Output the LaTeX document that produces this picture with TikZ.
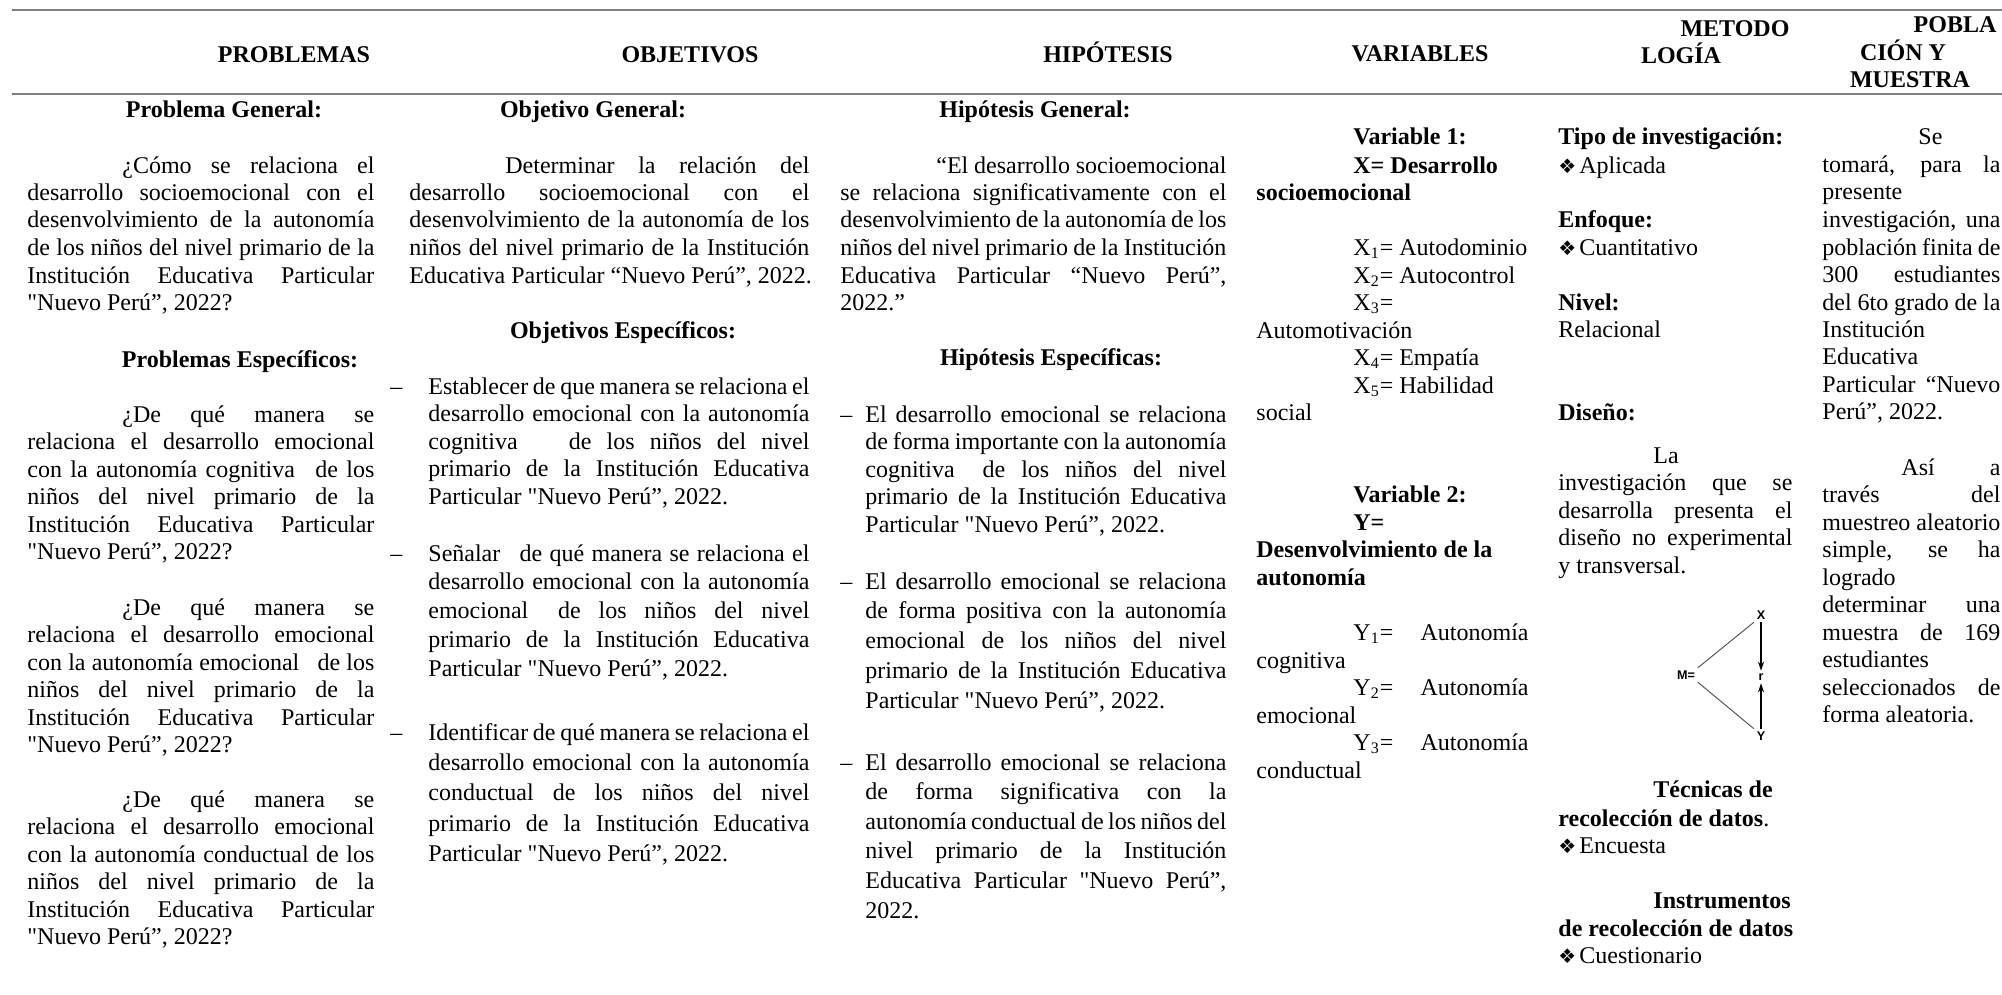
\documentclass[tikz,border=0pt]{standalone}
\usepackage{fontspec}
\setmainfont{Liberation Serif}
\newfontfamily\sansfam{Liberation Sans}
\newfontfamily\dejavu{DejaVu Sans}
\usetikzlibrary{arrows.meta}

\newcommand{\J}[1]{\makebox[\linewidth][s]{#1}\par}
\newcommand{\N}[1]{\mbox{#1}\par}
\newcommand{\ind}{\hspace*{47.5pt}}
\newcommand{\sbs}[1]{\textsubscript{#1}}
\newcommand{\sq}{\XeTeXglyph\XeTeXcharglyph"22\relax}
\newcommand{\bul}{{\dejavu\fontsize{10pt}{10pt}\selectfont ❖}\hspace{1.5pt}}
\newcommand{\para}[3][13.75pt]{\parbox[t]{#2}{\fontsize{12pt}{#1}\selectfont\setlength{\parindent}{0pt}\setlength{\parskip}{0pt}\lineskiplimit=-20pt\lineskip=0pt #3}}

\definecolor{rulegray}{RGB}{128,128,128}
\definecolor{diagray}{RGB}{90,90,90}

\tikzset{
  txt/.style={inner sep=0pt, anchor=base west, font=\fontsize{12pt}{13.75pt}\selectfont},
  txtb/.style={txt, font=\fontsize{12pt}{13.75pt}\selectfont\bfseries},
  ctr/.style={inner sep=0pt, anchor=base, font=\fontsize{12pt}{13.75pt}\selectfont\bfseries},
  rgt/.style={inner sep=0pt, anchor=base east, font=\fontsize{12pt}{13.75pt}\selectfont},
  rulesty/.style={draw=rulegray, line width=1pt},
  dg/.style={inner sep=1.25pt, font=\sansfam\bfseries\fontsize{6.3pt}{7pt}\selectfont},
  dline/.style={draw=diagray, line width=0.5pt},
  darrow/.style={draw=black, line width=0.6pt, -{Stealth[length=4.5pt,width=3pt]}}
}

\begin{document}
\begin{tikzpicture}[x=0.5pt,y=-0.5pt]
\fill[white] (0,0) rectangle (2002,995);
\useasboundingbox (0,0) rectangle (2002,995);

% rules
\draw[rulesty] (12,10) -- (2002,10);
\draw[rulesty] (12,94) -- (2002,94);

% headers
\node[ctr] (hprob) at (294,63) {PROBLEMAS};
\node[ctr] (hobj) at (690,63) {OBJETIVOS};
\node[ctr] (hhip) at (1108,63) {HIPÓTESIS};
\node[ctr] (hvar) at (1420,62) {VARIABLES};
\node[ctr] (hmet1) at (1735,37) {METODO};
\node[ctr] (hmet2) at (1681,64) {LOGÍA};
\node[ctr] (hpob1) at (1955,33) {POBLA};
\node[ctr] (hpob2) at (1903,61) {CIÓN Y};
\node[ctr] (hpob3) at (1910,88) {MUESTRA};

% ---------- column 1 ----------
\node[ctr] (pgen) at (224,118) {Problema General:};
\node[txt] (p1) at (27,173) {\para{173.5pt}{%
\J{\ind ¿Cómo se relaciona el}
\J{desarrollo socioemocional con el}
\J{desenvolvimiento de la autonomía}
\J{de los niños del nivel primario de la}
\J{Institución Educativa Particular}
\N{\sq Nuevo Perú”, 2022?}}};
\node[ctr] (pesp) at (240,367) {Problemas Específicos:};
\node[txt] (p2) at (27,422) {\para{173.5pt}{%
\J{\ind ¿De qué manera se}
\J{relaciona el desarrollo emocional}
\J{con la autonomía cognitiva\hspace{6pt} de los}
\J{niños del nivel primario de la}
\J{Institución Educativa Particular}
\N{\sq Nuevo Perú”, 2022?}}};
\node[txt] (p3) at (27,615) {\para{173.5pt}{%
\J{\ind ¿De qué manera se}
\J{relaciona el desarrollo emocional}
\J{con la autonomía emocional\hspace{6pt} de los}
\J{niños del nivel primario de la}
\J{Institución Educativa Particular}
\N{\sq Nuevo Perú”, 2022?}}};
\node[txt] (p4) at (27,807) {\para{173.5pt}{%
\J{\ind ¿De qué manera se}
\J{relaciona el desarrollo emocional}
\J{con la autonomía conductual de los}
\J{niños del nivel primario de la}
\J{Institución Educativa Particular}
\N{\sq Nuevo Perú”, 2022?}}};

% ---------- column 2 ----------
\node[ctr] (ogen) at (593,118) {Objetivo General:};
\node[txt] (o1) at (409,173) {\para{200pt}{%
\J{\hspace*{48pt}Determinar la relación del}
\J{desarrollo socioemocional con el}
\J{desenvolvimiento de la autonomía de los}
\J{niños del nivel primario de la Institución}
\N{Educativa Particular “Nuevo Perú”, 2022.}}};
\node[ctr] (oesp) at (623,338) {Objetivos Específicos:};
\node[txt] (od1) at (390,394) {–};
\node[txt] (o2) at (428,394) {\para{190.5pt}{%
\J{Establecer de que manera se relaciona el}
\J{desarrollo emocional con la autonomía}
\J{cognitiva\hspace{18pt} de los niños del nivel}
\J{primario de la Institución Educativa}
\N{Particular \sq Nuevo Perú”, 2022.}}};
\node[txt] (od2) at (390,561) {–};
\node[txt] (o3) at (428,561) {\para[14.45pt]{190.5pt}{%
\J{Señalar\hspace{6pt} de qué manera se relaciona el}
\J{desarrollo emocional con la autonomía}
\J{emocional\hspace{6pt} de los niños del nivel}
\J{primario de la Institución Educativa}
\N{Particular \sq Nuevo Perú”, 2022.}}};
\node[txt] (od3) at (390,740) {–};
\node[txt] (o4) at (428,740) {\para[15.2pt]{190.5pt}{%
\J{Identificar de qué manera se relaciona el}
\J{desarrollo emocional con la autonomía}
\J{conductual de los niños del nivel}
\J{primario de la Institución Educativa}
\N{Particular \sq Nuevo Perú”, 2022.}}};

% ---------- column 3 ----------
\node[ctr] (hgen) at (1035,118) {Hipótesis General:};
\node[txt] (h1) at (840,173) {\para{193pt}{%
\J{\hspace*{48pt}“El desarrollo socioemocional}
\J{se relaciona significativamente con el}
\J{desenvolvimiento de la autonomía de los}
\J{niños del nivel primario de la Institución}
\J{Educativa Particular “Nuevo Perú”,}
\N{2022.”}}};
\node[ctr] (hesp) at (1051,365) {Hipótesis Específicas:};
\node[txt] (hd1) at (840,422) {–};
\node[txt] (h2) at (865,422) {\para{180.5pt}{%
\J{El desarrollo emocional se relaciona}
\J{de forma importante con la autonomía}
\J{cognitiva\hspace{6pt} de los niños del nivel}
\J{primario de la Institución Educativa}
\N{Particular \sq Nuevo Perú”, 2022.}}};
\node[txt] (hd2) at (840,589) {–};
\node[txt] (h3) at (865,589) {\para[14.9pt]{180.5pt}{%
\J{El desarrollo emocional se relaciona}
\J{de forma positiva con la autonomía}
\J{emocional de los niños del nivel}
\J{primario de la Institución Educativa}
\N{Particular \sq Nuevo Perú”, 2022.}}};
\node[txt] (hd3) at (840,770) {–};
\node[txt] (h4) at (865,770) {\para[14.8pt]{180.5pt}{%
\J{El desarrollo emocional se relaciona}
\J{de forma significativa con la}
\J{autonomía conductual de los niños del}
\J{nivel primario de la Institución}
\J{Educativa Particular \sq Nuevo Perú”,}
\N{2022.}}};

% ---------- column 4 ----------
\node[txtb] (v1a) at (1353,145) {Variable 1:};
\node[txtb] (v1b) at (1353,173) {X= Desarrollo};
\node[txtb] (v1c) at (1256,200) {socioemocional};
\node[txt] (x1) at (1353,255) {X\sbs{1}= Autodominio};
\node[txt] (x2) at (1353,283) {X\sbs{2}= Autocontrol};
\node[txt] (x3) at (1353,310) {X\sbs{3}=};
\node[txt] (x3b) at (1256,338) {Automotivación};
\node[txt] (x4) at (1353,365) {X\sbs{4}= Empatía};
\node[txt] (x5) at (1353,393) {X\sbs{5}= Habilidad};
\node[txt] (x5b) at (1256,420) {social};
\node[txtb] (v2a) at (1353,502) {Variable 2:};
\node[txtb] (v2b) at (1353,530) {Y=};
\node[txtb] (v2c) at (1256,557) {Desenvolvimiento de la};
\node[txtb] (v2d) at (1256,585) {autonomía};
\node[txt] (y1) at (1353,640) {Y\sbs{1}=};
\node[rgt] (y1a) at (1529,640) {Autonomía};
\node[txt] (y1b) at (1256,668) {cognitiva};
\node[txt] (y2) at (1353,695) {Y\sbs{2}=};
\node[rgt] (y2a) at (1529,695) {Autonomía};
\node[txt] (y2b) at (1256,723) {emocional};
\node[txt] (y3) at (1353,750) {Y\sbs{3}=};
\node[rgt] (y3a) at (1529,750) {Autonomía};
\node[txt] (y3b) at (1256,778) {conductual};

% ---------- column 5 ----------
\node[txtb] (m1) at (1558,145) {Tipo de investigación:};
\node[txt] (m2) at (1558,173) {\bul Aplicada};
\node[txtb] (m3) at (1558,227) {Enfoque:};
\node[txt] (m4) at (1558,255) {\bul Cuantitativo};
\node[txtb] (m5) at (1558,310) {Nivel:};
\node[txt] (m6) at (1558,337) {Relacional};
\node[txtb] (m7) at (1558,420) {Diseño:};
\node[txt] (m8) at (1558,463) {\para{117pt}{%
\N{\ind La}
\J{investigación que se}
\J{desarrolla presenta el}
\J{diseño no experimental}
\N{y transversal.}}};
\node[txtb] (m9) at (1653,797) {Técnicas de};
\node[txt] (m10) at (1558,826) {\textbf{recolección de datos}.};
\node[txt] (m11) at (1558,853) {\bul Encuesta};
\node[txtb] (m12) at (1653,908) {Instrumentos};
\node[txtb] (m13) at (1558,936) {de recolección de datos};
\node[txt] (m14) at (1558,963) {\bul Cuestionario};

% diagram
\node[dg] (dm) at (1686,675) {M=};
\node[dg] (dx) at (1761,615) {X};
\node[dg] (dr) at (1761,677) {r};
\node[dg] (dy) at (1761,736) {Y};
\draw[dline] (dm.north east) -- (dx.south west);
\draw[dline] (dm.south east) -- (dy.north west);
\draw[darrow] (dx) -- (dr);
\draw[darrow] (dy) -- (dr);

% ---------- column 6 ----------
\node[txt] (s1) at (1822,145) {\para{89pt}{%
\N{\hspace*{48pt}Se}
\J{tomará, para la}
\N{presente}
\J{investigación, una}
\J{población finita de}
\J{300 estudiantes}
\J{del 6to grado de la}
\N{Institución}
\N{Educativa}
\J{Particular “Nuevo}
\N{Perú”, 2022.}}};
\node[txt] (s2) at (1822,475) {\para{89pt}{%
\J{\hspace*{39.5pt}Así a}
\J{través del}
\J{muestreo aleatorio}
\J{simple, se ha}
\N{logrado}
\J{determinar una}
\J{muestra de 169}
\N{estudiantes}
\J{seleccionados de}
\N{forma aleatoria.}}};
\end{tikzpicture}
\end{document}
